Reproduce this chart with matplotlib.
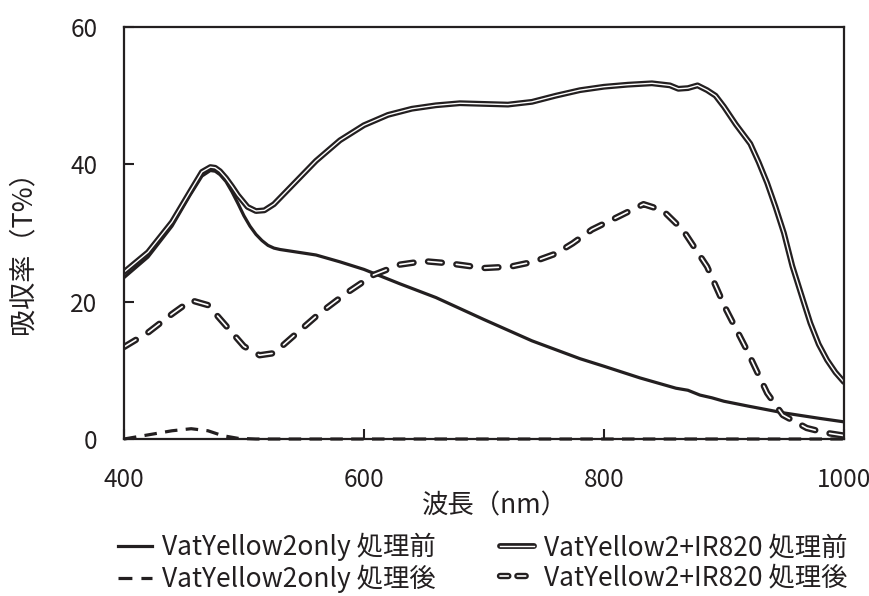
import matplotlib.pyplot as plt
from matplotlib.lines import Line2D
from matplotlib.legend_handler import HandlerTuple

plt.rcParams['font.family'] = ['Noto Sans CJK JP', 'DejaVu Sans']
plt.rcParams['lines.scale_dashes'] = False

# VatYellow2only 処理前
x_only_before = [400, 420, 440, 455, 465, 472, 476, 480, 485, 490, 495, 500, 505, 510, 515, 520, 525,
                 530, 545, 560, 580, 600, 630, 660, 700, 740, 780, 800, 830, 860, 870, 880, 890,
                 900, 920, 950, 980, 1000]
y_only_before = [23.5, 26.5, 31.0, 35.5, 38.3, 39.1, 39.0, 38.5, 37.5, 36.0, 34.3, 32.5, 31.0, 29.8,
                 28.9, 28.2, 27.8, 27.6, 27.2, 26.8, 25.8, 24.7, 22.6, 20.6, 17.4, 14.3, 11.7, 10.6,
                 8.9, 7.4, 7.1, 6.4, 6.0, 5.5, 4.8, 3.8, 3.0, 2.5]

# VatYellow2+IR820 処理前
x_ir_before = [400, 420, 440, 455, 465, 472, 476, 480, 485, 490, 495, 503, 510, 517, 525, 535, 545,
               560, 580, 600, 620, 640, 660, 680, 700, 720, 740, 760, 780, 800, 820, 840, 855, 862,
               870, 878, 886, 893, 900, 910, 922, 929, 936, 943, 950, 957, 966, 972, 979, 986, 993,
               1000]
y_ir_before = [24.3, 27.2, 31.6, 36.0, 38.9, 39.6, 39.5, 39.0, 38.0, 36.8, 35.5, 33.8, 33.2, 33.3,
               34.2, 36.0, 37.8, 40.5, 43.5, 45.7, 47.2, 48.1, 48.6, 48.9, 48.8, 48.7, 49.1, 50.0,
               50.8, 51.3, 51.6, 51.8, 51.5, 51.0, 51.1, 51.5, 50.8, 50.0, 48.4, 45.8, 43.0, 40.3,
               37.3, 33.8, 30.0, 25.2, 20.2, 16.9, 13.8, 11.5, 9.7, 8.3]

# VatYellow2only 処理後
x_only_after = [400, 420, 440, 456, 470, 482, 495, 510, 600, 700, 800, 900, 1000]
y_only_after = [0.0, 0.6, 1.2, 1.5, 1.2, 0.5, 0.1, 0.0, 0.0, 0.0, 0.0, 0.0, 0.0]

# VatYellow2+IR820 処理後
x_ir_after = [400, 420, 440, 456, 470, 485, 500, 513, 525, 540, 563, 585, 608, 630, 650, 670, 700,
              722, 741, 760, 774, 790, 811, 833, 849, 866, 886, 902, 919, 936, 949, 969, 985, 1000]
y_ir_after = [13.4, 15.5, 18.2, 20.2, 19.5, 16.5, 13.5, 12.2, 12.5, 14.8, 18.3, 21.2, 23.9, 25.4,
              25.9, 25.6, 24.9, 25.1, 25.8, 27.0, 28.5, 30.5, 32.3, 34.2, 33.3, 30.4, 25.1, 18.8,
              13.0, 6.7, 3.5, 1.6, 0.9, 0.5]

labels_left = ['VatYellow2only 処理前', 'VatYellow2only 処理後']
labels_right = ['VatYellow2+IR820 処理前', 'VatYellow2+IR820 処理後']

ink = '#231f20'
fig = plt.figure(figsize=(8.7, 5.96), dpi=100)
ax = fig.add_axes([0.1425, 0.2634, 0.8275, 0.6913])

dash_thin = (0, (9, 6))
dash_dbl = (0, (10, 10.5))

ax.plot(x_only_before, y_only_before, color=ink, lw=2.3)
ax.plot(x_only_after, y_only_after, color=ink, lw=2.3, linestyle=dash_thin, clip_on=False)
ax.plot(x_ir_before, y_ir_before, color=ink, lw=4.2, solid_capstyle='round')
ax.plot(x_ir_before, y_ir_before, color='white', lw=1.0)
ax.plot(x_ir_after, y_ir_after, color=ink, lw=4.6, linestyle=dash_dbl, dash_capstyle='round')
ax.plot(x_ir_after, y_ir_after, color='white', lw=1.2, linestyle=dash_dbl, dash_capstyle='round')

ax.set_xlim(400, 1000)
ax.set_ylim(0, 60)
ax.set_xticks([400, 600, 800, 1000])
ax.set_yticks([0, 20, 40, 60])
ax.tick_params(axis='both', direction='in', length=7, width=1.5, labelsize=17.5, colors=ink)
ax.tick_params(axis='y', pad=19)
ax.tick_params(axis='x', pad=20)
for s in ax.spines.values():
    s.set_linewidth(1.6)
    s.set_color(ink)

ax.set_xlabel('波長（nm）', fontsize=19, color=ink)
ax.set_ylabel('吸収率（T%）', fontsize=19.5, color=ink)
ax.xaxis.set_label_coords(0.515, -0.13)
ax.yaxis.set_label_coords(-0.122, 0.47)

h_solid = Line2D([], [], color=ink, lw=2.3)
h_dash = Line2D([], [], color=ink, lw=2.3, linestyle=(0, (10, 6.5)))
h_dbl = (Line2D([], [], color=ink, lw=4.2, solid_capstyle='round'),
         Line2D([], [], color='white', lw=1.0))
h_dbldash = (Line2D([], [], color=ink, lw=4.6, linestyle=(0, (6, 6.5)), dash_capstyle='round'),
             Line2D([], [], color='white', lw=1.2, linestyle=(0, (6, 6.5)), dash_capstyle='round'))

leg_kw = dict(loc='center left', frameon=False, fontsize=19, handlelength=1.3,
              handletextpad=0.35, labelspacing=0.12, borderaxespad=0, borderpad=0,
              handler_map={tuple: HandlerTuple(ndivide=1)}, labelcolor=ink)
fig.legend([h_solid, h_dash], labels_left, bbox_to_anchor=(118 / 870, 1 - 563 / 596), **leg_kw)
fig.legend([h_dbl, h_dbldash], labels_right, bbox_to_anchor=(500 / 870, 1 - 563 / 596), **leg_kw)

fig.savefig('out.png', dpi=100)
